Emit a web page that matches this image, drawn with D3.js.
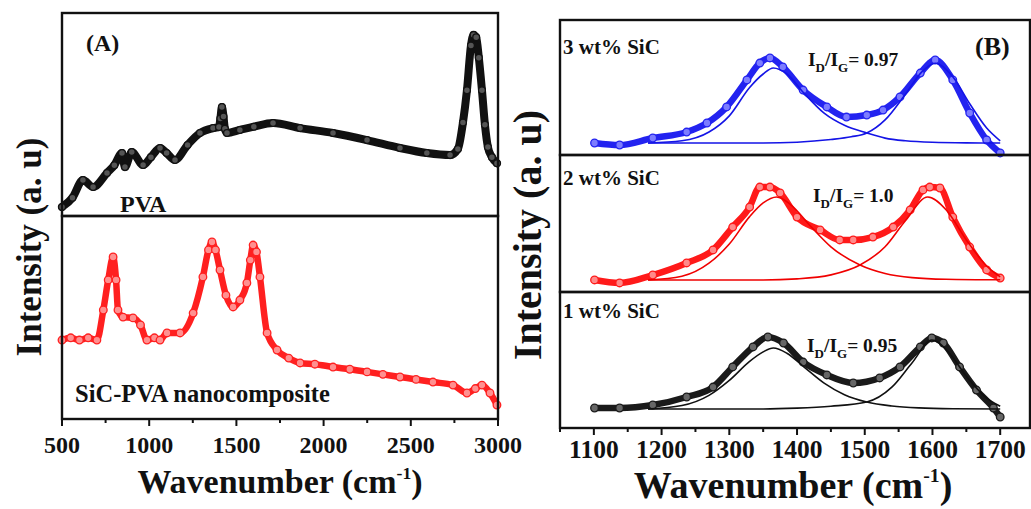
<!DOCTYPE html>
<html>
<head>
<meta charset="utf-8">
<script src="https://cdn.jsdelivr.net/npm/d3@7"></script>
<style>
  html, body { margin: 0; padding: 0; background: #fff; }
  svg { display: block; }
  text { font-family: "Liberation Serif", "Times New Roman", serif; font-weight: bold; fill: #111; }
</style>
</head>
<body>
<svg id="chart" width="1031" height="509"></svg>
<script>
/* ── Data ──────────────────────────────────────────────────────── */
// Panel A: Raman spectra, intensity in % of sub-panel height
const pvaWn  = [500, 560, 620, 678, 758, 800, 844, 861, 900, 965, 1010, 1062, 1100, 1148, 1220, 1291, 1366, 1400, 1408, 1417, 1426, 1434, 1446, 1520, 1600, 1710, 1865, 2054, 2249, 2438, 2592, 2725, 2770, 2799, 2822, 2845, 2860, 2875, 2890, 2908, 2925, 2942, 2965, 2994];
const pvaI   = [4.4, 9, 17.7, 14.3, 21.2, 25, 31, 24.1, 31.5, 25.1, 29, 33.5, 31, 27.6, 35, 40.9, 43.3, 43.8, 48, 53.7, 49, 43, 40.9, 42.4, 44, 45.8, 43.3, 40.9, 37.4, 33.5, 31.0, 30.0, 33, 46, 62, 84, 89.2, 88, 78, 62, 45, 34, 29, 26];

const sicWn  = [500, 550, 600, 650, 700, 737, 765, 793, 810, 821, 850, 907, 950, 987, 1030, 1062, 1102, 1177, 1252, 1308, 1340, 1360, 1380, 1406, 1440, 1481, 1520, 1560, 1580, 1596, 1615, 1635, 1676, 1733, 1800, 1865, 1950, 2054, 2150, 2249, 2340, 2438, 2530, 2627, 2742, 2822, 2870, 2908, 2954, 2994];
const sicI   = [38.9, 40, 38.9, 40, 38.9, 53.7, 68.5, 79.8, 68.5, 53.7, 50.2, 49.8, 46.3, 38.9, 40, 38.9, 42.4, 42.4, 52.2, 70, 83.3, 87.2, 83.3, 73.4, 61, 55.2, 58.6, 67, 78.3, 85.7, 82.3, 70, 42.4, 34, 30, 27.6, 27, 25.6, 24.5, 23.2, 22, 20.7, 19.5, 18.2, 16.7, 12.8, 15, 16.7, 12.8, 6.9];

// Panel B: D/G band region, three SiC loadings
const wn3 = [1101, 1138, 1187, 1237, 1267, 1296, 1326, 1345, 1360, 1379, 1409, 1444, 1473, 1503, 1527, 1552, 1582, 1604, 1630, 1655, 1680, 1700];
const i3  = [8.9, 7.4, 12.6, 17, 23.7, 35.6, 55.6, 68.1, 71.9, 65.2, 48.1, 35.6, 28.1, 29.6, 33.3, 43, 60.7, 70.4, 55.6, 31.1, 11.1, 1.5];
const wn2 = [1101, 1138, 1187, 1237, 1276, 1305, 1330, 1345, 1360, 1375, 1400, 1434, 1463, 1483, 1512, 1542, 1567, 1586, 1596, 1611, 1630, 1655, 1680, 1700];
const i2  = [8.8, 6.6, 12.4, 21.2, 30.7, 47.4, 62, 76.6, 76.6, 72.3, 54.7, 45.3, 38, 38, 40.1, 47.4, 59.9, 74.5, 76.6, 75.9, 54.7, 32.8, 16.1, 10.2];
const wn1 = [1101, 1138, 1187, 1237, 1276, 1305, 1335, 1357, 1380, 1409, 1444, 1483, 1522, 1552, 1582, 1599, 1616, 1640, 1665, 1690, 1700];
const i1  = [14.7, 14.7, 16.9, 22.8, 30.1, 44.9, 59.6, 66.9, 62.5, 48.5, 39, 33.1, 36.8, 44.9, 59.6, 66.2, 62.5, 44.9, 27.9, 14.7, 8.1];

// fitted D and G components
const fitDWn3 = [1180, 1230, 1270, 1300, 1330, 1350, 1365, 1385, 1410, 1440, 1470, 1503, 1530, 1560, 1600, 1650, 1700];
const fitD3   = [8.9, 10.5, 17, 29, 50, 60, 64.4, 60, 46, 31, 22, 16.3, 12.5, 10.5, 9.4, 9, 8.9];
const fitGWn3 = [1180, 1350, 1400, 1450, 1480, 1503, 1530, 1560, 1585, 1604, 1630, 1655, 1680, 1700];
const fitG3   = [8.9, 8.9, 9.5, 11.5, 13.5, 16.3, 26, 45, 62, 68, 58, 38, 20, 10.5];

const fitDWn2 = [1180, 1230, 1270, 1300, 1330, 1350, 1370, 1390, 1420, 1450, 1493, 1530, 1570, 1620, 1700];
const fitD2   = [8.8, 11.5, 21, 35, 55, 65, 69.3, 64, 48, 33, 19.7, 13.5, 10.5, 9.3, 8.9];
const fitGWn2 = [1180, 1350, 1400, 1450, 1493, 1530, 1560, 1593, 1620, 1650, 1680, 1700];
const fitG2   = [8.8, 8.8, 9.6, 12.5, 19.7, 33, 52, 69.3, 60, 38, 19, 11];

const fitDWn1 = [1180, 1230, 1270, 1300, 1330, 1350, 1365, 1385, 1410, 1440, 1470, 1503, 1540, 1580, 1630, 1700];
const fitD1   = [14, 16.5, 24, 35, 49, 56, 58.8, 55, 45, 33, 24.5, 19.1, 16.2, 14.8, 14.2, 14];
const fitGWn1 = [1180, 1350, 1400, 1450, 1503, 1540, 1570, 1599, 1625, 1650, 1680, 1700];
const fitG1   = [14, 14, 14.6, 16, 19.1, 30, 48, 64.7, 55, 38, 22, 16];

const ticksA = [500, 1000, 1500, 2000, 2500, 3000];
const ticksB = [1100, 1200, 1300, 1400, 1500, 1600, 1700];
const ratios = ["0.97", "1.0", "0.95"];
const loads  = ["3 wt% SiC", "2 wt% SiC", "1 wt% SiC"];

/* ── Setup ─────────────────────────────────────────────────────── */
const svg = d3.select("#chart");
const zip = (a, b) => a.map((v, i) => ({ x: v, y: b[i] }));

const xA = d3.scaleLinear().domain([500, 3000]).range([62, 498]);
const xB = d3.scaleLinear().domain([1050, 1744]).range([560, 1030]);

const subA = [[13, 216], [216, 419]];
const subB = [[20, 155], [155, 292], [292, 428]];

function drawSpectrum(g, x, y, pts, col, fillCol, w, r) {
  const line = d3.line().x(d => x(d.x)).y(d => y(d.y)).curve(d3.curveMonotoneX);
  g.append("path").datum(pts).attr("d", line)
    .attr("fill", "none").attr("stroke", col).attr("stroke-width", w)
    .attr("stroke-linejoin", "round").attr("stroke-linecap", "round");
  g.append("g").selectAll("circle").data(pts).join("circle")
    .attr("cx", d => x(d.x)).attr("cy", d => y(d.y)).attr("r", r)
    .attr("fill", fillCol).attr("stroke", col).attr("stroke-width", 1.3);
}
function drawFit(g, x, y, pts, col) {
  const line = d3.line().x(d => x(d.x)).y(d => y(d.y)).curve(d3.curveMonotoneX);
  g.append("path").datum(pts).attr("d", line)
    .attr("fill", "none").attr("stroke", col).attr("stroke-width", 1.6);
}
function frame(x0, x1, y0, y1) {
  svg.append("rect").attr("x", x0).attr("y", y0).attr("width", x1 - x0).attr("height", y1 - y0)
    .attr("fill", "none").attr("stroke", "#111").attr("stroke-width", 2.4);
}
function xAxis(x, yPos, major, minorStep, fs, ly) {
  const [d0, d1] = x.domain();
  const minor = d3.range(Math.ceil(d0 / minorStep) * minorStep, d1 + 1, minorStep)
    .filter(v => !major.includes(v));
  const g = svg.append("g");
  g.selectAll(".maj").data(major).join("line").attr("class", "maj")
    .attr("x1", d => x(d)).attr("x2", d => x(d)).attr("y1", yPos).attr("y2", yPos + 7)
    .attr("stroke", "#111").attr("stroke-width", 2);
  g.selectAll(".min").data(minor).join("line").attr("class", "min")
    .attr("x1", d => x(d)).attr("x2", d => x(d)).attr("y1", yPos).attr("y2", yPos + 4)
    .attr("stroke", "#111").attr("stroke-width", 2);
  g.selectAll("text").data(major).join("text")
    .attr("x", d => x(d)).attr("y", ly).attr("text-anchor", "middle")
    .attr("font-size", fs).text(d => d);
}
function xTitle(cx, by, fs) {
  const t = svg.append("text").attr("x", cx).attr("y", by).attr("text-anchor", "middle").attr("font-size", fs);
  t.append("tspan").text("Wavenumber (cm");
  t.append("tspan").attr("font-size", fs * 0.52).attr("dy", -fs * 0.42).text("-1");
  t.append("tspan").attr("dy", fs * 0.42).text(")");
}
function yTitle(cx, cy, fs) {
  svg.append("text").attr("transform", `translate(${cx},${cy}) rotate(-90)`)
    .attr("text-anchor", "middle").attr("font-size", fs).text("Intensity (a. u)");
}

/* ── Panel A ───────────────────────────────────────────────────── */
const pA = svg.append("g");
const yPva = d3.scaleLinear().domain([0, 100]).range([subA[0][1], subA[0][0]]);
const ySic = d3.scaleLinear().domain([0, 100]).range([subA[1][1], subA[1][0]]);
drawSpectrum(pA, xA, yPva, zip(pvaWn, pvaI), "#111", "#555", 8, 3.4);
drawSpectrum(pA, xA, ySic, zip(sicWn, sicI), "#ff2020", "#ff9090", 6.5, 3.8);
frame(62, 498, subA[0][0], subA[0][1]);
frame(62, 498, subA[1][0], subA[1][1]);
xAxis(xA, subA[1][1], ticksA, 250, 24, 453);
xTitle(280, 493, 34);
yTitle(41, 247, 35);

svg.append("text").attr("x", 86).attr("y", 51).attr("font-size", 24).text("(A)");
svg.append("text").attr("x", 120).attr("y", 212).attr("font-size", 24).text("PVA");
svg.append("text").attr("x", 75).attr("y", 402).attr("font-size", 24.5).text("SiC-PVA nanocomposite");

/* ── Panel B ───────────────────────────────────────────────────── */
const pB = svg.append("g");
const setsB = [
  { wn: wn3, i: i3, dW: fitDWn3, d: fitD3, gW: fitGWn3, g: fitG3, col: "#2323f0", fill: "#7c7cff", fit: "#1414e6" },
  { wn: wn2, i: i2, dW: fitDWn2, d: fitD2, gW: fitGWn2, g: fitG2, col: "#ff1a1a", fill: "#ff8a8a", fit: "#f00000" },
  { wn: wn1, i: i1, dW: fitDWn1, d: fitD1, gW: fitGWn1, g: fitG1, col: "#1a1a1a", fill: "#666", fit: "#111" }
];
const ratioY = [66, 202, 352];
const ratioX = [808, 813, 807];
const loadY  = [54, 185, 318];
setsB.forEach((s, k) => {
  const y = d3.scaleLinear().domain([0, 100]).range([subB[k][1], subB[k][0]]);
  drawSpectrum(pB, xB, y, zip(s.wn, s.i), s.col, s.fill, 6.5, 3.8);
  drawFit(pB, xB, y, zip(s.dW, s.d), s.fit);
  drawFit(pB, xB, y, zip(s.gW, s.g), s.fit);
  frame(560, 1030, subB[k][0], subB[k][1]);
  svg.append("text").attr("x", 563).attr("y", loadY[k]).attr("font-size", 21).text(loads[k]);
  const t = svg.append("text").attr("x", ratioX[k]).attr("y", ratioY[k]).attr("font-size", 19.5);
  t.append("tspan").text("I");
  t.append("tspan").attr("font-size", 13).attr("dy", 6).text("D");
  t.append("tspan").attr("dy", -6).text("/I");
  t.append("tspan").attr("font-size", 13).attr("dy", 6).text("G");
  t.append("tspan").attr("dy", -6).text("= " + ratios[k]);
});
svg.append("text").attr("x", 975).attr("y", 55).attr("font-size", 26).text("(B)");
xAxis(xB, subB[2][1], ticksB, 50, 25.5, 458);
xTitle(793, 498, 38);
yTitle(541, 235, 40);
</script>
</body>
</html>
